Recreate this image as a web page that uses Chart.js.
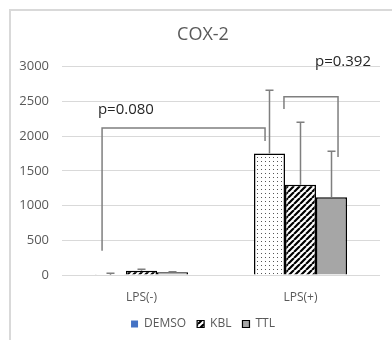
<!DOCTYPE html>
<html><head><meta charset="utf-8">
<script src="https://cdn.jsdelivr.net/npm/chart.js@4.4.0/dist/chart.umd.min.js"></script>
<style>
html,body{margin:0;padding:0;background:#fff;overflow:hidden}
#wrap{position:relative;width:392px;height:340px}
#frame{position:absolute;left:9px;top:9px;width:400px;height:340px;border-left:2px solid #d9d9d9;border-top:2px solid #d9d9d9;}
canvas{position:absolute;left:0;top:0}
</style></head><body>
<div id="wrap"><div id="frame"></div><canvas id="c" width="392" height="340"></canvas></div>
<script>
// ---- data ----
const categories = ['LPS(-)', 'LPS(+)'];
const seriesNames = ['DEMSO', 'KBL', 'TTL'];
const demso = [3, 1750];
const kbl = [60, 1300];
const ttl = [40, 1120];
const demsoErr = [22, 910];
const kblErr = [22, 900];
const ttlErr = [8, 660];
const yMin = 0, yMax = 3000, yStep = 500;
// significance brackets (x in category index units, y in data units)
const bracketLabels = ['p=0.080', 'p=0.392'];
const bracketLeftX = [-0.248, 0.896];
const bracketRightX = [0.777, 1.236];
const bracketLeftY = [350, 2390];
const bracketTopY = [2115, 2565];
const bracketRightY = [1930, 1700];
const labelX = [-0.274, 1.091];
const labelY = [2375, 3075];

const FONT = "'Open Sans', 'Liberation Sans', sans-serif";

function dotPattern() {
  const c = document.createElement('canvas'); c.width = 4; c.height = 4;
  const g = c.getContext('2d');
  g.fillStyle = '#fff'; g.fillRect(0, 0, 4, 4);
  g.fillStyle = '#555'; g.fillRect(1, 1, 1, 1);
  return g.createPattern(c, 'repeat');
}
function hatchPattern() {
  const s = 6;
  const c = document.createElement('canvas'); c.width = s; c.height = s;
  const g = c.getContext('2d');
  g.fillStyle = '#fff'; g.fillRect(0, 0, s, s);
  g.strokeStyle = '#000'; g.lineWidth = 2.2;
  g.beginPath();
  for (const k of [-s, 0, s]) { g.moveTo(k, s); g.lineTo(k + s, 0); }
  g.stroke();
  return g.createPattern(c, 'repeat');
}
const dots = dotPattern();
const hatch = hatchPattern();
const fills = [dots, hatch, '#a6a6a6'];
const legendFills = ['#4472c4', hatch, '#a6a6a6'];
const values = [demso, kbl, ttl];
const errs = [demsoErr, kblErr, ttlErr];

// shift title and legend slightly right, as in the original
const boxShift = {
  id: 'boxShift',
  afterLayout(chart) {
    const d = 8;
    [chart.titleBlock, chart.legend].forEach(b => { if (b) { b.left += d; b.right += d; } });
  }
};
const errorBars = {
  id: 'errorBars',
  afterDatasetsDraw(chart) {
    const ctx = chart.ctx, y = chart.scales.y;
    ctx.save();
    ctx.strokeStyle = '#7f7f7f'; ctx.lineWidth = 1.5;
    values.forEach((vals, i) => {
      const meta = chart.getDatasetMeta(i);
      meta.data.forEach((bar, j) => {
        const top = y.getPixelForValue(vals[j] + errs[i][j]);
        const base = y.getPixelForValue(vals[j]);
        ctx.beginPath();
        ctx.moveTo(bar.x, base); ctx.lineTo(bar.x, top);
        ctx.moveTo(bar.x - 4, top); ctx.lineTo(bar.x + 4, top);
        ctx.stroke();
      });
    });
    ctx.restore();
  }
};
const brackets = {
  id: 'brackets',
  afterDraw(chart) {
    const ctx = chart.ctx, x = chart.scales.x, y = chart.scales.y;
    ctx.save();
    ctx.strokeStyle = '#7f7f7f'; ctx.lineWidth = 1.5;
    bracketLabels.forEach((lab, i) => {
      const xl = x.getPixelForValue(bracketLeftX[i]);
      const xr = x.getPixelForValue(bracketRightX[i]);
      ctx.beginPath();
      ctx.moveTo(xl, y.getPixelForValue(bracketLeftY[i]));
      ctx.lineTo(xl, y.getPixelForValue(bracketTopY[i]));
      ctx.lineTo(xr, y.getPixelForValue(bracketTopY[i]));
      ctx.lineTo(xr, y.getPixelForValue(bracketRightY[i]));
      ctx.stroke();
      ctx.fillStyle = '#262626';
      ctx.font = '15px ' + FONT;
      ctx.textAlign = 'left'; ctx.textBaseline = 'middle';
      ctx.fillText(lab, x.getPixelForValue(labelX[i]), y.getPixelForValue(labelY[i]));
    });
    ctx.restore();
  }
};

new Chart(document.getElementById('c'), {
  type: 'bar',
  data: {
    labels: categories,
    datasets: seriesNames.map((n, i) => ({
      label: n,
      data: values[i],
      backgroundColor: fills[i],
      borderColor: '#000',
      borderWidth: 1.5,
      borderSkipped: 'start',
      categoryPercentage: 0.585,
      barPercentage: 1
    }))
  },
  options: {
    responsive: false,
    maintainAspectRatio: false,
    animation: false,
    devicePixelRatio: 1,
    layout: { padding: { left: 10, right: 12, top: 10, bottom: 0 } },
    plugins: {
      tooltip: { enabled: false },
      title: {
        display: true, text: 'COX-2', color: '#595959',
        font: { family: FONT, size: 18, weight: 'normal' },
        padding: { top: 14, bottom: 21 }
      },
      legend: {
        position: 'bottom',
        labels: {
          boxWidth: 7, boxHeight: 7, padding: 11, color: '#595959',
          font: { family: FONT, size: 12 },
          generateLabels: () => seriesNames.map((n, i) => ({
            text: n, fillStyle: legendFills[i],
            strokeStyle: i === 0 ? '#4472c4' : '#000',
            lineWidth: i === 0 ? 0 : 1.2, hidden: false, datasetIndex: i,
            fontColor: '#595959'
          }))
        }
      }
    },
    scales: {
      x: {
        grid: { display: false }, border: { display: false },
        ticks: { color: '#595959', font: { family: FONT, size: 12 }, padding: 7 },
        afterFit(s) { s.height = 32; }
      },
      y: {
        min: yMin, max: yMax,
        grid: { color: '#d9d9d9', drawTicks: false, lineWidth: 1 },
        border: { display: false },
        ticks: { stepSize: yStep, color: '#595959', font: { family: FONT, size: 13 }, padding: 13,
                 callback: v => String(v) },
        afterFit(s) { s.width = 52; }
      }
    }
  },
  plugins: [boxShift, errorBars, brackets]
});
</script>
</body></html>
